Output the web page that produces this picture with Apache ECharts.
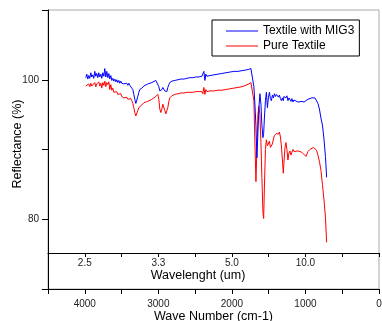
<!DOCTYPE html>
<html>
<head>
<meta charset="utf-8">
<script src="https://cdn.jsdelivr.net/npm/echarts@6/dist/echarts.min.js"></script>
<style>html,body{margin:0;padding:0;background:#fff;}#c{width:382px;height:321px;}</style>
</head>
<body>
<div id="c"></div>
<script>
// Wave numbers (cm-1) of the sampled points
var waveNumbers = [3986,3973,3959,3946,3932,3918,3905,3891,3878,3864,3850,3837,3823,3810,3796,3782,3769,3755,3741,3728,3714,3701,3687,3673,3660,3646,3633,3619,3605,3592,3578,3565,3551,3537,3524,3510,3497,3483,3469,3456,3442,3429,3415,3401,3388,3374,3361,3347,3333,3320,3306,
3293,3279,3265,3252,
3224,3197,3170,3143,3116,3088,3061,3034,
3020,3007,2993,2980,2966,2952,2939,2925,2912,2898,2884,2871,2857,2844,
2816,2776,2735,2694,2653,2612,2571,2531,2490,2449,2408,
2395,2381,2367,2354,2340,
2299,2245,2190,2136,2082,2027,1973,1918,1864,1810,
1769,1741,1721,1701,1687,1673,1660,1646,1633,1619,1605,1592,1578,1568,1558,1544,
1531,1517,1503,1490,1476,1463,1449,1435,1422,1408,1395,1381,1367,1354,1340,1327,
1313,1301,1293,1279,1265,1252,1238,1224,1211,1197,1184,1170,1156,
1129,1102,1075,1048,1020,993,966,939,912,
891,871,850,830,810,789,769,748,728,712];

// Reflectance (%) of "Textile with MIG3"
var mig3Values = [100.3,100.8,100.1,100.6,100.2,101.0,100.4,100.7,100.2,101.2,100.5,100.9,100.3,101.0,100.4,100.8,100.2,101.0,100.5,101.6,100.4,101.2,100.3,100.9,100.1,100.6,99.9,100.2,99.8,100.1,99.7,100.0,99.6,99.9,99.5,99.8,99.5,99.7,99.4,99.6,99.3,99.5,99.2,99.5,99.2,99.4,99.1,98.6,97.9,97.2,96.6,
96.8,97.6,98.2,98.6,
98.8,99.1,99.0,99.4,99.3,99.6,99.7,99.9,
100.0,99.7,99.0,98.4,98.2,98.6,98.9,98.7,98.4,98.2,98.3,98.9,99.3,99.6,
99.8,99.9,100.0,100.1,100.1,100.2,100.3,100.3,100.4,100.4,100.5,
100.3,101.2,99.9,100.8,100.5,
100.6,100.7,100.8,100.9,101.0,101.1,101.2,101.2,101.3,101.4,
101.5,101.6,101.7,99.0,96.5,93.4,88.8,92.5,96.0,98.0,96.5,93.5,91.7,92.3,94.5,97.0,
98.2,96.0,97.5,98.2,97.3,97.0,97.8,97.4,98.0,97.6,97.9,98.1,97.5,97.8,97.3,97.0,
97.4,97.0,97.6,97.8,97.4,97.7,97.0,97.4,97.2,96.9,97.3,96.8,97.1,
97.0,96.8,96.7,96.9,96.8,97.0,97.2,97.3,97.4,
97.6,97.4,97.3,96.6,95.8,94.5,93.5,91.5,89.0,86.0];

// Reflectance (%) of "Pure Textile"
var pureValues = [99.1,99.3,98.9,99.4,99.0,99.5,99.1,99.3,98.9,99.6,99.0,99.4,99.2,99.7,99.1,99.5,98.8,99.6,99.2,99.8,99.0,99.6,99.3,99.7,98.6,99.3,98.5,98.8,98.2,98.4,98.0,98.3,97.9,98.1,97.7,98.0,97.6,97.8,97.4,97.6,97.3,97.5,97.2,97.4,97.1,97.3,97.0,96.6,96.0,95.3,94.8,
95.0,95.6,96.0,96.2,
96.4,96.7,96.6,96.9,97.0,97.2,97.4,97.6,
97.8,97.9,97.2,95.8,95.3,95.8,96.5,96.3,95.6,95.1,95.0,96.0,96.9,97.4,
97.7,97.9,98.0,98.1,98.1,98.2,98.2,98.2,98.3,98.3,98.3,
98.0,98.9,97.9,98.6,98.3,
98.4,98.4,98.5,98.5,98.6,98.7,98.8,98.9,99.0,99.2,
99.4,99.6,99.85,97.0,91.0,85.4,90.0,95.0,96.2,95.0,91.0,86.0,81.0,80.1,84.5,90.0,
91.4,90.5,90.6,91.2,90.3,90.2,90.8,91.5,92.0,91.8,92.3,92.5,92.2,92.5,91.8,90.5,
88.5,86.6,88.0,90.2,91.0,90.0,88.5,89.5,89.8,89.2,89.6,90.0,89.7,
89.9,89.8,89.7,89.6,89.3,89.0,89.7,90.0,90.2,
90.3,90.2,89.9,89.2,88.3,87.0,85.0,82.8,80.3,76.7];

// Tick labels
var wavelengthTickPositions = [4000, 3000, 2000, 1000];
var wavelengthTickLabels = ['2.5', '3.3', '5.0', '10.0'];
var waveNumberTickLabels = [4000, 3000, 2000, 1000, 0];
var reflectanceTickLabels = [80, 100];
var seriesNames = ['Textile with MIG3', 'Pure Textile'];

function pairs(xs, ys) {
  var out = [];
  for (var i = 0; i < xs.length; i++) out.push([xs[i], ys[i]]);
  return out;
}

var FONT = 'Liberation Sans, Arial, sans-serif';
var LINE_ICON = 'path://M0,0 H32 V1 H0 Z';
var chart = echarts.init(document.getElementById('c'), null, {renderer: 'canvas'});
chart.setOption({
  animation: false,
  backgroundColor: '#fff',
  textStyle: {fontFamily: FONT},
  grid: [
    // whole frame: plot + wavelength band, bottom edge is the wave-number axis
    {left: 48, right: 3, top: 10, height: 279, outerBoundsMode: 'none', containLabel: false, show: true, borderColor: '#aaa', borderWidth: 1, backgroundColor: 'transparent'},
    // wavelength band
    {left: 48, right: 3, top: 253, height: 36, outerBoundsMode: 'none', containLabel: false, show: false}
  ],
  legend: {
    data: [
      {name: seriesNames[0], icon: LINE_ICON, itemStyle: {color: '#0000ff'}},
      {name: seriesNames[1], icon: LINE_ICON, itemStyle: {color: '#ff0000'}}
    ],
    orient: 'vertical',
    left: 212, top: 20,
    itemWidth: 32, itemHeight: 12, itemGap: 3, symbolKeepAspect: true,
    padding: [5, 5, 4, 14],
    borderColor: '#000', borderWidth: 1, backgroundColor: '#fff',
    textStyle: {fontSize: 12, color: '#000', fontFamily: FONT}
  },
  xAxis: [
    {
      gridIndex: 0, type: 'value', min: 0, max: 4500, interval: 500, inverse: true, position: 'bottom',
      axisLine: {show: true, onZero: false, lineStyle: {color: '#000', width: 1}},
      axisTick: {show: true, length: 5, lineStyle: {color: '#000'}},
      axisLabel: {margin: 10, fontSize: 10, color: '#222', fontFamily: FONT, showMaxLabel: true, showMinLabel: true,
        formatter: function (v) { return waveNumberTickLabels.indexOf(v) >= 0 ? String(v) : ''; }},
      splitLine: {show: false},
      name: 'Wave Number (cm-1)', nameLocation: 'middle', nameGap: 21, nameMoveOverlap: false,
      nameTextStyle: {fontSize: 12.5, color: '#000', fontFamily: FONT}
    },
    {
      gridIndex: 1, type: 'value', min: 0, max: 4500, interval: 500, inverse: true, position: 'top',
      axisLine: {show: true, onZero: false, lineStyle: {color: '#000', width: 1}},
      axisTick: {show: true, inside: true, length: 4, lineStyle: {color: '#000'}},
      axisLabel: {inside: true, margin: 5, fontSize: 10, color: '#222', fontFamily: FONT,
        formatter: function (v) { var i = wavelengthTickPositions.indexOf(v); return i >= 0 ? wavelengthTickLabels[i] : ''; }},
      splitLine: {show: false},
      name: 'Wavelenght (um)', nameLocation: 'middle', nameGap: -29, nameMoveOverlap: false,
      nameTextStyle: {fontSize: 12.5, color: '#000', fontFamily: FONT, padding: [0, 31, 0, 0]}
    }
  ],
  yAxis: [
    {
      gridIndex: 0, type: 'value', min: 70, max: 110, interval: 10, position: 'left',
      axisLine: {show: true, onZero: false, lineStyle: {color: '#000', width: 1}},
      axisTick: {show: true, length: 6, lineStyle: {color: '#000'}},
      axisLabel: {margin: 9, fontSize: 10, color: '#222', fontFamily: FONT,
        formatter: function (v) { return reflectanceTickLabels.indexOf(v) >= 0 ? String(v) : ''; }},
      splitLine: {show: false},
      name: 'Reflectance (%)', nameLocation: 'middle', nameGap: 24, nameRotate: 90, nameMoveOverlap: false,
      nameTextStyle: {fontSize: 12.5, color: '#000', fontFamily: FONT, padding: [0, 0, 0, 11]}
    },
    {
      gridIndex: 1, type: 'value', min: 0, max: 1, show: false
    }
  ],
  series: [
    {
      name: seriesNames[1], type: 'line', xAxisIndex: 0, yAxisIndex: 0,
      data: pairs(waveNumbers, pureValues), symbol: 'none', showSymbol: false,
      itemStyle: {color: '#ff0000'}, lineStyle: {color: '#ff0000', width: 1}
    },
    {
      name: seriesNames[0], type: 'line', xAxisIndex: 0, yAxisIndex: 0,
      data: pairs(waveNumbers, mig3Values), symbol: 'none', showSymbol: false,
      itemStyle: {color: '#0000ff'}, lineStyle: {color: '#0000ff', width: 1}
    }
  ]
});
</script>
</body>
</html>
